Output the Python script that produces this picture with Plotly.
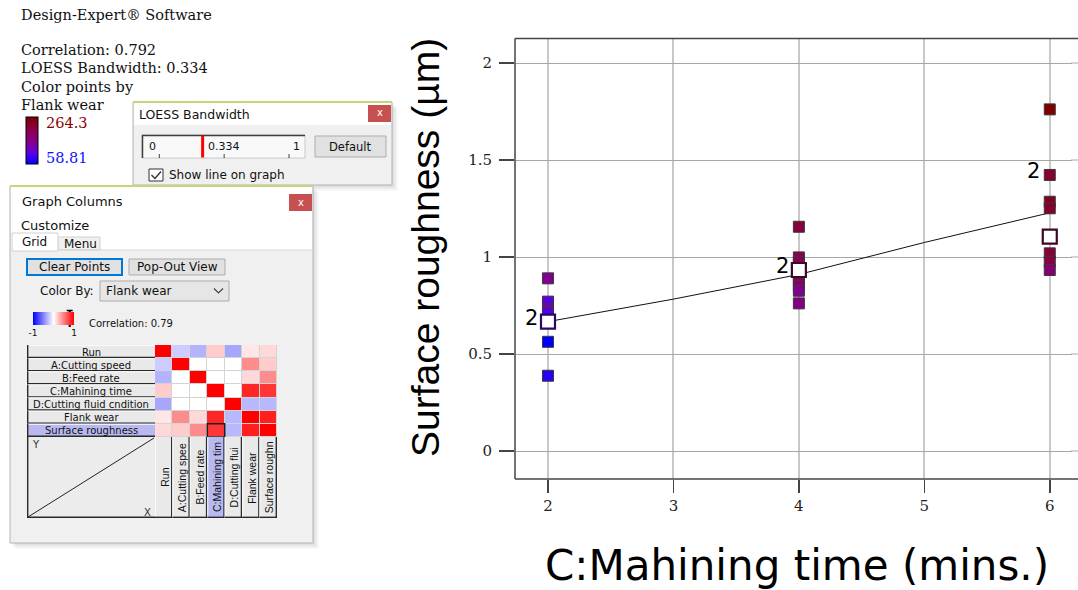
import plotly.graph_objects as go

W, H = 1078, 590

# ---------------- data ----------------
# Surface roughness runs at each machining time, coloured by flank wear
time_pts = [2, 2, 2, 2, 2, 2,
            4, 4, 4, 4, 4, 4, 4, 4,
            6, 6, 6, 6, 6, 6, 6]
rough_pts = [0.890, 0.770, 0.730, 0.710, 0.563, 0.388,
             1.156, 0.998, 0.976, 0.907, 0.881, 0.851, 0.826, 0.761,
             1.761, 1.423, 1.285, 1.251, 1.019, 0.976, 0.933]
wear_pts = [150, 105, 135, 100, 58.81, 80,
            215, 205, 200, 195, 190, 185, 150, 160,
            264.3, 225, 240, 230, 220, 210, 175]
wear_min, wear_max = 58.81, 264.3

# highlighted (coincident) runs and their multiplicity labels
open_time = [2, 4, 6]
open_rough = [0.667, 0.933, 1.105]
open_edge = ["#2c0860", "#3c0828", "#3c0828"]
cnt_time = [2, 4, 6]
cnt_rough = [0.667, 0.933, 1.423]
cnt_text = ["2", "2", "2"]

# LOESS fit (bandwidth 0.334)
loess_time = [2, 3, 4, 5, 6]
loess_fit = [0.667, 0.783, 0.910, 1.075, 1.228]
bandwidth = 0.334
correlation = 0.792

x_ticks = [2, 3, 4, 5, 6]
y_ticks = [0, 0.5, 1, 1.5, 2]
y_ticktext = ["0", "0.5", "1", "1.5", "2"]

# correlation grid of the graph-columns panel
row_names = ["Run", "A:Cutting speed", "B:Feed rate", "C:Mahining time",
             "D:Cutting fluid cndition", "Flank wear", "Surface roughness"]
col_names = ["Run", "A:Cutting spee", "B:Feed rate", "C:Mahining tim",
             "D:Cutting flui", "Flank wear", "Surface roughn"]
corr = [
    [1.00, -0.20, -0.30, 0.20, -0.35, 0.10, 0.15],
    [-0.20, 1.00, 0.00, 0.00, 0.00, 0.45, 0.20],
    [-0.30, 0.00, 1.00, 0.00, 0.00, 0.15, 0.45],
    [0.20, 0.00, 0.00, 1.00, 0.00, 0.85, 0.79],
    [-0.35, 0.00, 0.00, 0.00, 1.00, -0.28, -0.28],
    [0.10, 0.45, 0.15, 0.85, -0.28, 1.00, 0.88],
    [0.15, 0.20, 0.45, 0.79, -0.28, 0.88, 1.00],
]
sel_row, sel_col = 6, 3
corr_shown = 0.79

# ---------------- helpers ----------------
shapes, annos = [], []


def px(x):
    return x / W


def py(y):
    return 1 - y / H


def rect(x0, y0, x1, y1, fill="rgba(0,0,0,0)", line=None, lw=1, opacity=1, layer="below"):
    shapes.append(dict(type="rect", xref="paper", yref="paper",
                       x0=px(x0), x1=px(x1), y0=py(y1), y1=py(y0),
                       fillcolor=fill, opacity=opacity, layer=layer,
                       line=dict(color=line or "rgba(0,0,0,0)", width=lw if line else 0)))


def seg(x0, y0, x1, y1, color, lw=1, layer="below"):
    shapes.append(dict(type="line", xref="paper", yref="paper",
                       x0=px(x0), x1=px(x1), y0=py(y0), y1=py(y1), layer=layer,
                       line=dict(color=color, width=lw)))


def path(pts, color, lw=1.2, layer="below"):
    d = "M " + " L ".join(f"{px(a):.5f},{py(b):.5f}" for a, b in pts)
    shapes.append(dict(type="path", xref="paper", yref="paper", path=d, layer=layer,
                       line=dict(color=color, width=lw)))


def label(x, y, s, size, color="#000", family="DejaVu Sans", xanchor="left",
          yanchor="middle", angle=0):
    annos.append(dict(x=px(x), y=py(y), xref="paper", yref="paper", text=s,
                      showarrow=False, xanchor=xanchor, yanchor=yanchor,
                      textangle=angle, borderpad=0,
                      font=dict(size=size, color=color, family=family)))


def shadow(x0, y0, x1, y1):
    for k in range(1, 7):
        rect(x0 + k, y0 + k, x1 + k, y1 + k, fill="#000000", opacity=0.025)


SERIF = "DejaVu Serif"
SANS = "DejaVu Sans"

# ---------------- header text ----------------
label(20, 15, "Design-Expert® Software", 14.5, "#111", SERIF)
label(20, 50, f"Correlation: {correlation}", 14.5, "#111", SERIF)
label(20, 68, f"LOESS Bandwidth: {bandwidth}", 14.5, "#111", SERIF)
label(20, 87, "Color points by", 14.5, "#111", SERIF)
label(20, 105, "Flank wear", 14.5, "#111", SERIF)
label(45, 123, f"{wear_max}", 14.5, "#8b0000", SERIF)
label(45, 158, f"{wear_min}", 14.5, "#1010ff", SERIF)

# ---------------- LOESS bandwidth window ----------------
shadow(133, 102, 392, 185)
rect(133, 102, 392, 185, fill="#f0f0f0", line="#b4b4b4")
rect(134, 103, 391, 125, fill="#ffffff")
seg(133, 102, 392, 102, "#c8d47c", 2)
rect(368, 105, 391, 122, fill="#c75050")
label(379.5, 113, "x", 10, "#ffffff", SANS, xanchor="center")
label(138, 114, "LOESS Bandwidth", 12.5, "#111", SANS)
# slider
rect(142, 135, 305, 158, fill="#f9f9f9", line="#c8c8c8")
seg(142, 135.5, 305, 135.5, "#404040", 1.5)
seg(142.5, 135, 142.5, 158, "#404040", 1.5)
s0, s1 = 159.3, 289.0
for v in (0, 0.5, 1):
    xx = s0 + v * (s1 - s0)
    seg(xx, 154, xx, 158, "#404040", 1)
xb = s0 + bandwidth * (s1 - s0)
rect(xb - 1.5, 136, xb + 1.5, 157.5, fill="#ff0000")
label(148, 146, "0", 11, "#111", SANS)
label(207, 146, f"{bandwidth}", 11, "#111", SANS)
label(292, 146, "1", 11, "#111", SANS)
rect(315, 136, 386, 157, fill="#e1e1e1", line="#adadad")
label(350.5, 147, "Default", 11.5, "#111", SANS, xanchor="center")
rect(149, 169, 163, 181, fill="#ffffff", line="#333333")
path([(151.5, 175), (155, 178.5), (161, 171.5)], "#333333", 1.4)
label(168, 175.5, "Show line on graph", 12, "#111", SANS)

# ---------------- graph columns window ----------------
shadow(10, 186, 313, 543)
rect(10, 186, 313, 543, fill="#f0f0f0", line="#b4b4b4")
rect(11, 187, 312, 250, fill="#ffffff")
seg(10, 186, 313, 186, "#c8d47c", 2)
label(21, 201, "Graph Columns", 13, "#111", SANS)
rect(289, 194, 312, 211, fill="#c75050")
label(300.5, 202.5, "x", 10, "#ffffff", SANS, xanchor="center")
label(20, 225, "Customize", 13, "#111", SANS)
rect(58, 237, 100, 250, fill="#f0f0f0", line="#d0d0d0")
rect(12, 233, 58, 251, fill="#ffffff", line="#d0d0d0")
seg(58, 250, 313, 250, "#d9d9d9", 1)
label(21, 242, "Grid", 12, "#111", SANS)
label(63, 244, "Menu", 12, "#111", SANS)
rect(27, 259, 122, 275, fill="#e1e1e1", line="#0078d7", lw=2)
label(74.5, 267, "Clear Points", 12, "#111", SANS, xanchor="center")
rect(129, 259, 225, 275, fill="#e1e1e1", line="#adadad")
label(177, 267, "Pop-Out View", 12, "#111", SANS, xanchor="center")
label(39, 291, "Color By:", 12, "#111", SANS)
rect(100, 281, 229, 301, fill="#e6e6e6", line="#acacac")
label(105, 291, "Flank wear", 12, "#111", SANS)
path([(214, 288.5), (218.5, 293), (223, 288.5)], "#444444", 1.2)
cb0, cb1 = 33, 74
xm = cb0 + (corr_shown + 1) / 2 * (cb1 - cb0)
seg(xm, 310, xm, 327, "#000000", 2, layer="above")
seg(xm - 3, 310.5, xm + 3, 310.5, "#000000", 1.5, layer="above")
label(88, 323, f"Correlation: {corr_shown}", 10, "#111", SANS)

# matrix geometry
mx0, mx1, my0, my1, cy1 = 155, 277, 345, 437, 518
cw = (mx1 - mx0) / 7
rh = (my1 - my0) / 7
for i, name in enumerate(row_names):
    top = my0 + i * rh
    fill = "#b9b9f2" if i == sel_row else "#e9e9e9"
    rect(27, top, mx0, top + rh, fill=fill)
    seg(27, top + 0.5, mx0, top + 0.5, "#fafafa", 1)
    seg(27, top + rh - 0.7, mx0, top + rh - 0.7, "#2a2a2a", 1.4)
    seg(27.7, top, 27.7, top + rh, "#2a2a2a", 1.4)
    label((27 + mx0) / 2, top + rh / 2 + 0.5, name, 10, "#111", SANS, xanchor="center")
for j, name in enumerate(col_names):
    left = mx0 + j * cw
    fill = "#b9b9f2" if j == sel_col else "#e9e9e9"
    rect(left, my1, left + cw, cy1, fill=fill)
    seg(left + 0.5, my1, left + 0.5, cy1, "#fafafa", 1)
    seg(left + cw - 0.7, my1, left + cw - 0.7, cy1, "#2a2a2a", 1.4)
    seg(left, cy1 - 0.7, left + cw, cy1 - 0.7, "#2a2a2a", 1.4)
    label(left + cw / 2 + 0.5, (my1 + cy1) / 2, name, 10.5, "#111",
          "Liberation Sans", xanchor="center", angle=-90)
rect(27, my1, mx0, cy1, fill="#ececec")
seg(27.7, my1, 27.7, cy1, "#2a2a2a", 1.4)
seg(27, cy1 - 0.7, mx0, cy1 - 0.7, "#2a2a2a", 1.4)
seg(28, cy1 - 1, mx0 - 1, my1 + 1, "#222222", 1)
label(31, 444, "Y", 10, "#333", SANS)
label(152, 512, "X", 10, "#333", SANS, xanchor="right")

# cell grid background + selected cell frame (heatmap axes)
shapes.append(dict(type="rect", xref="x2", yref="y2", x0=-0.5, x1=6.5, y0=-0.5, y1=6.5,
                   fillcolor="#d4d4d4", line=dict(width=0), layer="below"))
shapes.append(dict(type="rect", xref="x2", yref="y2",
                   x0=sel_col - 0.5, x1=sel_col + 0.5, y0=sel_row - 0.5, y1=sel_row + 0.5,
                   fillcolor="rgba(0,0,0,0)", line=dict(color="#202020", width=1.5),
                   layer="above"))

# main plot frame: top, left and bottom edges (the right edge runs off the page)
PL, PT, PB = 515, 38.5, 479
# keep the page's right margin clean inside the frame
rect(1072, 40, W + 2, 477.5, fill="#ffffff", layer="above")
for gy in y_ticks:
    yy = 451 - gy * 194
    seg(1071, yy, W + 2, yy, "#a8a8a8", 1, layer="above")
seg(PL, PT, W, PT, "#444444", 1.5, layer="above")
seg(PL, PB, W, PB, "#444444", 1.5, layer="above")
seg(PL, PT, PL, PB, "#444444", 1.5, layer="above")

# ---------------- traces ----------------
wear_scale = [[0.0, "#0000ff"], [0.22, "#5a00e8"], [0.45, "#820090"],
              [0.7, "#8a0050"], [1.0, "#800000"]]
corr_scale = [[0.0, "#0000ff"], [0.5, "#ffffff"], [1.0, "#ff0000"]]

fig = go.Figure()

fig.add_trace(go.Scatter(
    x=loess_time, y=loess_fit, mode="lines",
    line=dict(color="#111111", width=1), hoverinfo="skip", showlegend=False))

fig.add_trace(go.Scatter(
    x=time_pts, y=rough_pts, mode="markers", showlegend=False,
    marker=dict(symbol="square", size=11, color=wear_pts, colorscale=wear_scale,
                cmin=wear_min, cmax=wear_max, line=dict(color="#3a3a3a", width=1),
                showscale=True,
                colorbar=dict(x=px(26), xanchor="left", y=py(117), yanchor="top",
                              len=47, lenmode="pixels", thickness=12,
                              thicknessmode="pixels", outlinecolor="#000000",
                              outlinewidth=1, showticklabels=False, ticks="",
                              xpad=0, ypad=0))))

fig.add_trace(go.Scatter(
    x=open_time, y=open_rough, mode="markers", showlegend=False,
    marker=dict(symbol="square", size=14, color="#ffffff",
                line=dict(color=open_edge, width=2.2))))

fig.add_trace(go.Heatmap(
    z=corr, x=list(range(7)), y=list(range(7)), xaxis="x2", yaxis="y2",
    colorscale=corr_scale, zmin=-1, zmax=1, xgap=1, ygap=1, hoverinfo="skip",
    showscale=True,
    colorbar=dict(orientation="h", x=px(33), xanchor="left", y=py(312), yanchor="top",
                  len=41, lenmode="pixels", thickness=13, thicknessmode="pixels",
                  outlinewidth=0, tickvals=[-1, 1], ticktext=["-1", "1"], ticks="",
                  tickfont=dict(size=9, family=SANS, color="#111"), xpad=0, ypad=0)))

for t, r, s in zip(cnt_time, cnt_rough, cnt_text):
    annos.append(dict(x=t, y=r, xref="x", yref="y", text=s, showarrow=False,
                      xanchor="right", yanchor="middle", xshift=-8, yshift=4,
                      font=dict(size=21, color="#000000", family=SANS)))

# axis titles
label(425, 248, "Surface roughness (µm)", 39, "#000", "Liberation Sans",
      xanchor="center", angle=-90)
label(797, 565, "C:Mahining time (mins.)", 42, "#000", SANS, xanchor="center")

fig.update_layout(
    width=W, height=H, margin=dict(l=0, r=0, t=0, b=0),
    paper_bgcolor="#ffffff", plot_bgcolor="rgba(0,0,0,0)",
    shapes=shapes, annotations=annos, showlegend=False,
    xaxis=dict(domain=[px(515), 1.0], range=[1.737, 6.225], tickvals=x_ticks,
               ticks="outside", ticklen=13, tickcolor="#444", tickwidth=1.5,
               showline=False, showgrid=True, gridcolor="#c8c8c8", gridwidth=2,
               zeroline=False, tickfont=dict(family=SERIF, size=15, color="#222"),
               anchor="y"),
    yaxis=dict(domain=[py(479), py(38)], range=[-0.1443, 2.129], tickvals=y_ticks,
               ticktext=y_ticktext, ticks="outside", ticklen=15, tickcolor="#444",
               tickwidth=1.5, showline=False, showgrid=True, gridcolor="#a8a8a8",
               gridwidth=1, zeroline=False,
               tickfont=dict(family=SERIF, size=15, color="#222"),
               anchor="x", ticklabelstandoff=4),
    xaxis2=dict(domain=[px(155), px(277)], range=[-0.5, 6.5], visible=False,
                anchor="y2", fixedrange=True),
    yaxis2=dict(domain=[py(437), py(345)], range=[6.5, -0.5], visible=False,
                anchor="x2", fixedrange=True),
)

fig.write_html("out.html", config={"displayModeBar": False, "staticPlot": True})
